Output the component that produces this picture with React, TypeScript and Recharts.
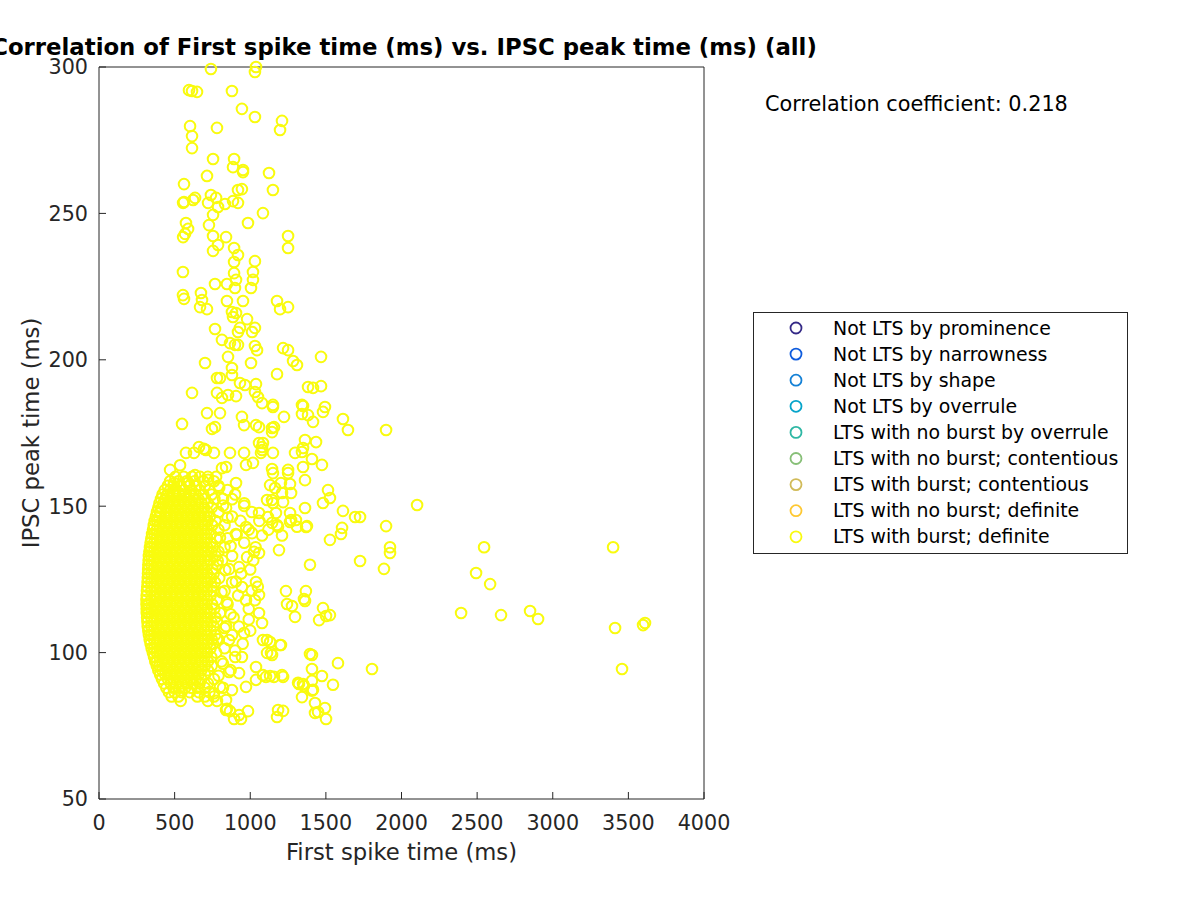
import { Scatter, ScatterChart, XAxis, YAxis } from 'recharts';

const FONT = 'DejaVu Sans, Verdana, sans-serif';
const AXIS = '#262626';
const YELLOW = '#F9FB0E';

const xTicks = [0, 500, 1000, 1500, 2000, 2500, 3000, 3500, 4000];
const yTicks = [50, 100, 150, 200, 250, 300];

const legendLabels = [
  'Not LTS by prominence',
  'Not LTS by narrowness',
  'Not LTS by shape',
  'Not LTS by overrule',
  'LTS with no burst by overrule',
  'LTS with no burst; contentious',
  'LTS with burst; contentious',
  'LTS with no burst; definite',
  'LTS with burst; definite',
];
const legendColors = [
  '#352A87',
  '#0F5CDD',
  '#1481D6',
  '#06A4CA',
  '#2EB7A4',
  '#87BF77',
  '#D1BB59',
  '#FEC832',
  '#F9FB0E',
];

// dense cluster, one row per IPSC peak time: [peak (ms), first spike times (ms)]
const coreRows: [number, number[]][] = [
  [160, [505, 560, 615, 668, 720]],
  [158.5, [470, 525, 580, 632, 690, 760]],
  [157, [455, 492, 540, 598, 645, 700, 790]],
  [155.5, [435, 470, 508, 560, 612, 665, 730, 850]],
  [154, [420, 452, 490, 527, 566, 600, 640, 690, 745, 900]],
  [152.5, [410, 438, 472, 510, 546, 583, 620, 657, 700, 763, 820]],
  [151, [400, 425, 455, 492, 528, 565, 602, 640, 678, 720, 960]],
  [149.5, [392, 414, 440, 473, 510, 547, 584, 621, 658, 695, 745, 840]],
  [148, [383, 405, 456, 492, 529, 566, 603, 640, 677, 716, 790, 1010]],
  [146.5, [376, 398, 437, 474, 511, 548, 585, 622, 659, 697, 733, 880]],
  [145, [368, 384, 418, 455, 492, 530, 567, 604, 641, 678, 718, 770, 935, 1060]],
  [143.5, [362, 400, 437, 474, 511, 548, 585, 622, 659, 697, 748, 830]],
  [142, [357, 382, 418, 455, 492, 529, 566, 603, 640, 677, 715, 790, 990, 1120]],
  [140.5, [351, 366, 400, 437, 474, 511, 548, 585, 622, 659, 697, 741, 905]],
  [139, [346, 382, 419, 455, 493, 529, 566, 604, 640, 677, 715, 775, 850]],
  [137.5, [341, 364, 401, 437, 474, 511, 549, 585, 622, 660, 697, 738, 960]],
  [136, [337, 347, 382, 418, 456, 492, 529, 566, 603, 641, 677, 715, 752, 830, 1035]],
  [134.5, [333, 364, 400, 438, 474, 510, 548, 586, 622, 659, 698, 744, 790]],
  [133, [330, 346, 383, 418, 455, 492, 530, 566, 603, 640, 677, 716, 771, 880]],
  [131.5, [328, 364, 400, 437, 475, 511, 548, 585, 621, 659, 697, 735, 815, 1020]],
  [130, [326, 346, 382, 419, 455, 492, 529, 567, 603, 640, 678, 715, 783]],
  [128.5, [325, 364, 401, 437, 474, 512, 548, 585, 622, 659, 697, 750, 860]],
  [127, [324, 346, 382, 418, 455, 493, 529, 566, 604, 640, 677, 715, 758, 940]],
  [125.5, [323, 365, 400, 437, 474, 511, 547, 585, 622, 660, 697, 741, 795]],
  [124, [321, 346, 382, 418, 456, 492, 529, 566, 603, 640, 677, 716, 766, 880]],
  [122.5, [319, 364, 400, 437, 474, 511, 548, 586, 622, 659, 696, 745, 1050]],
  [121, [317, 346, 383, 418, 455, 492, 530, 566, 603, 641, 677, 715, 755, 830]],
  [119.5, [315, 364, 400, 438, 474, 511, 548, 585, 623, 659, 697, 738, 920]],
  [118, [314, 346, 382, 418, 455, 493, 529, 566, 603, 640, 678, 715, 779]],
  [116.5, [314, 328, 364, 400, 437, 474, 511, 549, 585, 622, 659, 697, 748, 850]],
  [115, [315, 346, 382, 419, 455, 492, 529, 566, 604, 640, 677, 715, 762, 990]],
  [113.5, [316, 328, 365, 400, 437, 474, 511, 548, 585, 622, 660, 697, 736, 800]],
  [112, [318, 346, 382, 418, 455, 492, 530, 566, 603, 640, 677, 716, 770, 890]],
  [110.5, [320, 364, 401, 437, 474, 511, 548, 585, 622, 659, 697, 743, 780]],
  [109, [322, 346, 382, 418, 456, 492, 529, 567, 603, 640, 677, 715, 757, 840]],
  [107.5, [326, 364, 400, 437, 475, 511, 548, 585, 622, 659, 698, 739, 1000]],
  [106, [330, 346, 383, 418, 455, 492, 529, 566, 604, 640, 677, 715, 768, 880]],
  [104.5, [335, 364, 400, 437, 474, 512, 548, 585, 622, 659, 697, 746, 790]],
  [103, [341, 382, 418, 455, 492, 529, 566, 603, 640, 678, 715, 754, 950]],
  [101.5, [348, 365, 400, 437, 474, 511, 548, 586, 622, 659, 697, 737, 830]],
  [100, [356, 382, 418, 455, 493, 529, 566, 603, 640, 677, 715, 775]],
  [98.5, [364, 400, 437, 474, 511, 548, 585, 622, 660, 697, 742, 900]],
  [97, [372, 383, 418, 455, 492, 529, 567, 603, 640, 677, 720, 810]],
  [95.5, [382, 400, 437, 474, 511, 548, 585, 622, 659, 700, 745]],
  [94, [392, 418, 455, 492, 530, 566, 603, 640, 677, 720, 870]],
  [92.5, [404, 437, 474, 511, 548, 585, 622, 659, 700]],
  [91, [416, 455, 492, 529, 566, 603, 640, 677, 760]],
  [89.5, [430, 474, 511, 548, 585, 622, 665, 720]],
  [88, [445, 492, 529, 570, 610, 650, 700, 820]],
  [86.5, [462, 500, 545, 600, 660, 730]],
  [85, [480, 525, 650, 700, 760]],
  [83.5, [540, 720, 780]],
];

// [first spike (ms), IPSC peak (ms)]
const upperPoints: [number, number][] = [
  [740, 299.3], [1038, 300], [1031, 298.3], [595, 292.1], [615, 291.8], [648, 291.5], [879, 291.8],
  [945, 285.7], [1031, 282.9], [1210, 281.6], [1197, 278.5], [602, 279.8], [780, 279.2], [615, 276.4],
  [615, 272.3], [754, 268.6], [893, 268.6], [886, 265.8], [952, 264.8], [952, 264.1], [1124, 263.8],
  [714, 262.8], [562, 260.0], [919, 258.0], [945, 258.3], [1150, 258.0], [556, 253.6], [562, 253.9],
  [622, 254.6], [635, 255.3], [740, 256.3], [774, 255.3], [721, 253.6], [787, 252.2], [833, 253.2],
  [886, 254.2], [919, 253.6], [754, 249.5], [1084, 250.1], [575, 246.7], [589, 244.7], [727, 246.0],
  [985, 246.7], [556, 241.9], [754, 242.3], [840, 241.9], [1250, 242.3], [569, 243.0], [1250, 238.2],
  [754, 237.2], [787, 239.2], [893, 238.2], [919, 235.8], [893, 233.4], [1031, 233.7], [555, 230.0],
  [767, 225.9], [846, 225.9], [893, 229.6], [906, 227.3], [899, 224.5], [1018, 230.0], [1018, 227.3],
  [1005, 224.5], [555, 222.1], [562, 220.8], [674, 222.8], [681, 220.4], [668, 218.0], [714, 217.3],
  [846, 220.1], [952, 220.1], [1177, 220.1], [1197, 217.3], [1250, 218.0], [879, 216.3], [906, 216.0],
  [886, 214.6], [979, 213.9], [1031, 210.9], [1012, 209.5], [932, 210.9], [919, 209.5], [767, 210.5],
  [813, 206.8], [866, 205.7], [899, 205.1], [919, 205.1], [853, 201.0], [1005, 198.9], [1031, 204.7],
  [1045, 203.3], [1217, 204.0], [1250, 203.3], [1283, 199.6], [1309, 198.2], [701, 198.9], [879, 197.2],
  [1177, 195.1], [780, 193.8], [800, 193.8], [879, 194.8], [932, 192.1], [965, 191.4], [1038, 191.7],
  [615, 188.7], [780, 188.7], [813, 187.0], [853, 188.0], [906, 187.6], [1031, 189.0], [1051, 187.3],
  [1078, 185.2], [1150, 184.6], [1342, 184.6], [1382, 190.7], [1468, 201.0], [1468, 191.0], [1415, 190.4],
];

const midPoints: [number, number][] = [
  [1150, 183.9], [1349, 184.2], [1494, 183.9], [1342, 181.5], [1382, 181.1], [1223, 180.5], [1415, 178.8],
  [1481, 182.2], [1613, 179.8], [1646, 176], [1898, 176], [1144, 176.7], [1144, 175.3], [1084, 171.6],
  [1078, 169.2], [1362, 172.6], [1435, 171.9], [1296, 168.2], [1342, 168.5], [1349, 169.9], [1150, 168.2],
  [1408, 166.1], [1474, 164.1], [1144, 162.7], [1150, 161.3], [1250, 162.4], [1250, 161.3], [1349, 163.4],
  [1362, 158.9], [1263, 157.6], [1131, 157.2], [1164, 156.2], [1210, 154.5], [1514, 155.5], [1527, 152.8],
  [1481, 151.1], [1111, 152.1], [1150, 151.1], [1217, 151.4], [1613, 148.4], [1693, 146.3], [1362, 149.4],
  [2103, 150.4], [1263, 147.7], [1263, 144.6], [1375, 143.2], [1117, 146.3], [1144, 144.3], [1177, 143.6],
  [1607, 142.6], [1898, 143.2], [549, 178.1], [714, 181.8], [800, 181.8], [747, 176.4], [767, 177.0],
  [945, 180.5], [959, 177.7], [1038, 177.7], [1058, 177.0], [1157, 177.0], [575, 168.2], [628, 168.2],
  [694, 169.6], [760, 168.2], [866, 168.2], [959, 168.2], [1058, 171.6], [1078, 170.2], [1071, 168.2],
  [813, 163.0], [972, 164.1], [1018, 164.8], [470, 162.4], [536, 164.0], [635, 160.6], [589, 158.0],
  [721, 159.0], [661, 170.2], [707, 169.2], [906, 157.9], [840, 163.4], [774, 160.0], [496, 157.9],
  [450, 153.8], [529, 154.5], [1203, 157.9], [1270, 154.5], [1144, 152.1], [1058, 147.7], [1170, 147.7],
  [1270, 145.3], [1369, 142.9],
];

// rings just right of the dense cluster
const fringePoints: [number, number][] = [
  [820, 150.2], [850, 146.1], [800, 139.3], [870, 136.4], [835, 128.2], [905, 124.3], [810, 120.6],
  [870, 113.1], [830, 108.4], [900, 100.7], [820, 96.2], [790, 92.1], [860, 93.4], [800, 88.3],
  [760, 86.1], [910, 140.2], [880, 152.4], [795, 156.3], [960, 150.1], [1000, 128.4], [1010, 121.2],
  [990, 111.3], [845, 117.2], [780, 104.6], [925, 108.9], [785, 131.4],
];

const lowerPoints: [number, number][] = [
  [1924, 136.0], [1924, 134.0], [1726, 146.3], [1726, 131.3], [1884, 128.6], [1600, 140.5], [1527, 138.5],
  [1395, 130.0], [1184, 143.0], [1302, 145.3], [1309, 143.0], [1078, 140.0], [1210, 140.0], [1025, 134.4],
  [1058, 134.0], [1190, 135.0], [1038, 124.1], [1058, 119.7], [1031, 117.9], [1058, 113.5], [1203, 102.6],
  [1111, 104.3], [1137, 99.9], [1104, 91.7], [1157, 91.7], [1210, 92.3], [1038, 95.1], [1038, 90.7],
  [945, 98.5], [926, 93.0], [972, 88.3], [879, 87.2], [840, 83.8], [926, 78.7], [840, 80.4], [860, 104.3],
  [959, 106.7], [972, 117.9], [945, 122.4], [926, 129.2], [979, 132.6], [1012, 140.8], [972, 142.9],
  [1243, 116.6], [1362, 117.6], [1481, 115.2], [1527, 112.8], [1455, 111.1], [1296, 112.2], [1078, 110.1],
  [1084, 104.3], [1131, 103.6], [1197, 102.6], [1111, 99.9], [1144, 99.2], [1408, 99.2], [1580, 96.4],
  [1805, 94.4], [1408, 94.4], [1474, 92.0], [1084, 92.3], [1131, 92.0], [1217, 91.7], [1316, 89.7],
  [1349, 89.3], [1408, 90.4], [1547, 89.0], [1408, 87.0], [1342, 84.8], [1428, 82.8], [1494, 81.1],
  [1184, 80.4], [1217, 80.1], [1177, 78.0], [1428, 79.4], [1448, 79.7], [1501, 77.3], [893, 77.3],
  [939, 77.3], [985, 80.0], [846, 80.8], [866, 80.0], [1236, 121], [1276, 115.9], [1368, 121],
  [1355, 118.3], [1501, 112.5], [1395, 99.5], [1322, 89.3], [1355, 88.6], [1415, 87.3],
];

const farPoints: [number, number][] = [
  [2546, 136.0], [2493, 127.2], [2586, 123.4], [2394, 113.5], [2658, 112.8], [2850, 114.2],
  [2903, 111.5], [3399, 136.0], [3412, 108.4], [3597, 109.4], [3610, 110.1], [3458, 94.4],
];

const points = [
  ...coreRows.flatMap(([y, xs]) => xs.map((x) => ({ x, y }))),
  ...[...upperPoints, ...midPoints, ...fringePoints, ...lowerPoints, ...farPoints].map(([x, y]) => ({ x, y })),
];

function Ring(props: any) {
  const { cx, cy } = props;
  if (cx == null || cy == null) return null;
  return <circle cx={cx} cy={cy} r={5.3} fill='none' stroke={YELLOW} strokeWidth={2} />;
}

export default function App() {
  const tickStyle = { fontSize: 20.7, fill: AXIS, fontFamily: FONT };
  return (
    <div style={{ position: 'absolute', left: 0, top: 0, width: 1200, height: 900, background: '#fff' }}>
      <ScatterChart width={1200} height={900} margin={{ top: 47, right: 476, bottom: 61, left: 39 }}>
        <XAxis
          xAxisId='bottom'
          type='number'
          dataKey='x'
          domain={[0, 4000]}
          ticks={xTicks}
          interval={0}
          height={40}
          tickSize={-7}
          tickMargin={23}
          axisLine={{ stroke: AXIS }}
          tickLine={{ stroke: AXIS }}
          tick={tickStyle}
        />
        <XAxis
          xAxisId='top'
          orientation='top'
          type='number'
          domain={[0, 4000]}
          ticks={xTicks}
          interval={0}
          height={20}
          tickSize={-7}
          axisLine={{ stroke: AXIS }}
          tickLine={{ stroke: AXIS }}
          tick={false}
        />
        <YAxis
          yAxisId='left'
          type='number'
          dataKey='y'
          domain={[50, 300]}
          ticks={yTicks}
          interval={0}
          width={60}
          tickSize={-7}
          tickMargin={18}
          axisLine={{ stroke: AXIS }}
          tickLine={{ stroke: AXIS }}
          tick={tickStyle}
        />
        <YAxis
          yAxisId='right'
          orientation='right'
          type='number'
          domain={[50, 300]}
          ticks={yTicks}
          interval={0}
          width={20}
          tickSize={-7}
          axisLine={{ stroke: AXIS }}
          tickLine={{ stroke: AXIS }}
          tick={false}
        />
        <Scatter
          name='LTS with burst; definite'
          xAxisId='bottom'
          yAxisId='left'
          data={points}
          shape={Ring}
          isAnimationActive={false}
        />
      </ScatterChart>
      <svg
        width={1200}
        height={900}
        style={{ position: 'absolute', left: 0, top: 0, pointerEvents: 'none' }}
        fontFamily={FONT}
      >
        <text x={404} y={55} textAnchor='middle' fontSize={22.8} fontWeight='bold' fill='#000'>
          Correlation of First spike time (ms) vs. IPSC peak time (ms) (all)
        </text>
        <text x={401.5} y={860} textAnchor='middle' fontSize={22.7} fill={AXIS}>
          First spike time (ms)
        </text>
        <text x={39} y={433} textAnchor='middle' fontSize={22.7} fill={AXIS} transform='rotate(-90, 39, 433)'>
          IPSC peak time (ms)
        </text>
        <text x={765} y={111} fontSize={20.8} fill='#000'>
          Correlation coefficient: 0.218
        </text>
        <rect x={753.5} y={312.5} width={374} height={241} fill='#fff' stroke={AXIS} strokeWidth={1} />
        {legendLabels.map((label, i) => (
          <g key={label}>
            <circle cx={796} cy={328 + i * 26.1} r={5.5} fill='none' stroke={legendColors[i]} strokeWidth={1.8} />
            <text x={833} y={334.5 + i * 26.1} fontSize={18.9} fill='#000'>
              {label}
            </text>
          </g>
        ))}
      </svg>
    </div>
  );
}
